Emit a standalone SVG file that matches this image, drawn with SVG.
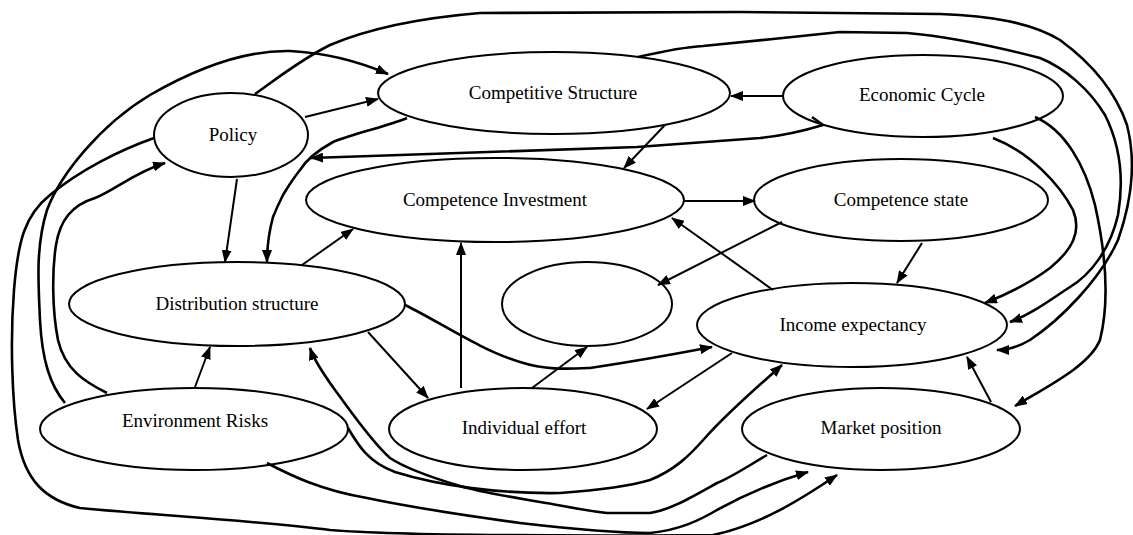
<svg xmlns="http://www.w3.org/2000/svg" width="1133" height="535" viewBox="0 0 1133 535">
<style>
.n{fill:#fff;stroke:#000;stroke-width:2}
.t{font-family:"Liberation Serif","Times New Roman",serif;font-size:19px;fill:#000;text-anchor:middle}
.s{fill:none;stroke:#000;stroke-width:2;marker-end:url(#ah)}
.c{fill:none;stroke:#000;stroke-width:2.6;stroke-linejoin:round;marker-end:url(#ah)}
.cn{fill:none;stroke:#000;stroke-width:2.6;stroke-linejoin:round}
</style>
<defs>
<marker id="ah" viewBox="0 0 13 10" refX="12" refY="5" markerWidth="13" markerHeight="10" markerUnits="userSpaceOnUse" orient="auto"><path d="M0,0 L13,5 L0,10 z" fill="#000"/></marker>
</defs>
<rect width="1133" height="535" fill="#fff"/>
<g id="policy"><ellipse class="n" cx="231" cy="135" rx="77" ry="42"/><text class="t" x="233" y="141">Policy</text></g>
<g id="competitive-structure"><ellipse class="n" cx="554" cy="93" rx="176" ry="41"/><text class="t" x="553" y="99">Competitive Structure</text></g>
<g id="economic-cycle"><ellipse class="n" cx="923" cy="96" rx="140" ry="41"/><text class="t" x="922" y="101">Economic Cycle</text></g>
<g id="competence-investment"><ellipse class="n" cx="495" cy="200" rx="189" ry="42"/><text class="t" x="495" y="206">Competence Investment</text></g>
<g id="competence-state"><ellipse class="n" cx="901" cy="200" rx="147" ry="41"/><text class="t" x="901" y="206">Competence state</text></g>
<g id="distribution-structure"><ellipse class="n" cx="237" cy="304" rx="168" ry="42"/><text class="t" x="237" y="310">Distribution structure</text></g>
<g id="blank"><ellipse class="n" cx="587" cy="304" rx="85" ry="42"/></g>
<g id="income-expectancy"><ellipse class="n" cx="852" cy="325" rx="155" ry="42"/><text class="t" x="853" y="331">Income expectancy</text></g>
<g id="environment-risks"><ellipse class="n" cx="194" cy="429" rx="154" ry="41"/><text class="t" x="195" y="427">Environment Risks</text></g>
<g id="individual-effort"><ellipse class="n" cx="523" cy="429" rx="134" ry="41"/><text class="t" x="524" y="434">Individual effort</text></g>
<g id="market-position"><ellipse class="n" cx="881" cy="429" rx="139" ry="41"/><text class="t" x="881" y="434">Market position</text></g>
<g id="connectors">
<path class="s" d="M305,117 L378,99"/>
<path class="s" d="M783,96 L731,96"/>
<path class="s" d="M665,125 L624,168"/>
<path class="s" d="M684,201 L755,201"/>
<path class="s" d="M237,179 L225,262"/>
<path class="s" d="M302,265 L353,229"/>
<path class="s" d="M195,387 L210,347"/>
<path class="s" d="M368,332 L428,398"/>
<path class="s" d="M461,388 L461,243"/>
<path class="s" d="M532,388 L587,347"/>
<path class="s" d="M732,353 L647,409"/>
<path class="s" d="M782,222 L658,285"/>
<path class="s" d="M773,290 L672,218"/>
<path class="s" d="M922,243 L897,283"/>
<path class="s" d="M991,402 L967,357"/>
<path class="c" d="M405,305 C440,322 480,350 520,362 C545,370 565,369 590,368 C630,362 670,355 712,347"/>
<path class="c" d="M107,393 C85,382 65,370 58,340 C52,310 52,270 56,245 C60,220 72,205 95,198 C115,190 135,172 165,163"/>
<path class="c" d="M65,403 C50,385 42,360 40,320 C38,280 36,245 47,210 C60,175 100,125 150,95 C190,72 240,50 290,51 C330,53 360,62 388,74"/>
<path class="c" d="M154,138 C120,150 80,170 50,195 C25,215 18,240 14,290 C10,340 12,400 18,440 C25,480 45,500 80,508 C150,515 250,520 330,530 C400,536 600,536 713,535 C760,525 800,500 837,475"/>
<path class="c" d="M255,94 C275,80 300,60 330,45 C370,28 420,18 480,13 L740,12 L940,14 C990,16 1030,22 1060,40 C1090,62 1115,90 1127,125 C1136,160 1132,200 1118,240 C1100,280 1060,320 1030,340 C1018,347 1008,350 997,350"/>
<path class="c" d="M638,57 C660,52 685,47 703,46 L773,39 L840,32 L907,33 C940,36 990,45 1040,58 C1065,68 1090,90 1105,115 C1120,145 1124,180 1118,215 C1110,250 1090,275 1070,287 C1050,300 1030,315 1010,322"/>
<path class="c" d="M1035,117 C1065,130 1085,165 1095,205 C1105,250 1110,300 1100,340 C1090,365 1050,385 1015,406"/>
<path class="c" d="M993,138 C1030,152 1060,185 1073,210 C1082,232 1072,250 1050,268 C1030,283 1005,295 985,303"/>
<path class="c" d="M812,117 L823,125 C800,132 780,136 760,138 L637,147 L400,155 L311,158"/>
<path class="c" d="M407,118 C385,127 355,133 333,142 C315,152 305,162 300,170 C292,180 286,190 283,195 C278,205 275,212 273,217 C269,232 267,245 267,262"/>
<path class="c" d="M348,428 C358,445 368,462 395,472 C440,486 500,494 560,493 C600,490 630,486 650,480 C675,470 690,455 705,438 C730,410 760,385 782,365"/>
<path class="c" d="M767,455 C745,468 730,478 717,483 C690,498 670,510 650,513 L607,513 C580,510 560,505 540,502 C510,497 480,492 460,486 C430,477 405,468 390,458 C370,440 350,410 335,390 C322,372 314,360 310,348"/>
<path class="c" d="M267,463 C290,475 320,490 367,498 C400,505 440,512 520,523 C580,530 620,533 650,533 C680,530 700,520 717,510 C750,492 780,480 808,472"/>
</g>
</svg>
